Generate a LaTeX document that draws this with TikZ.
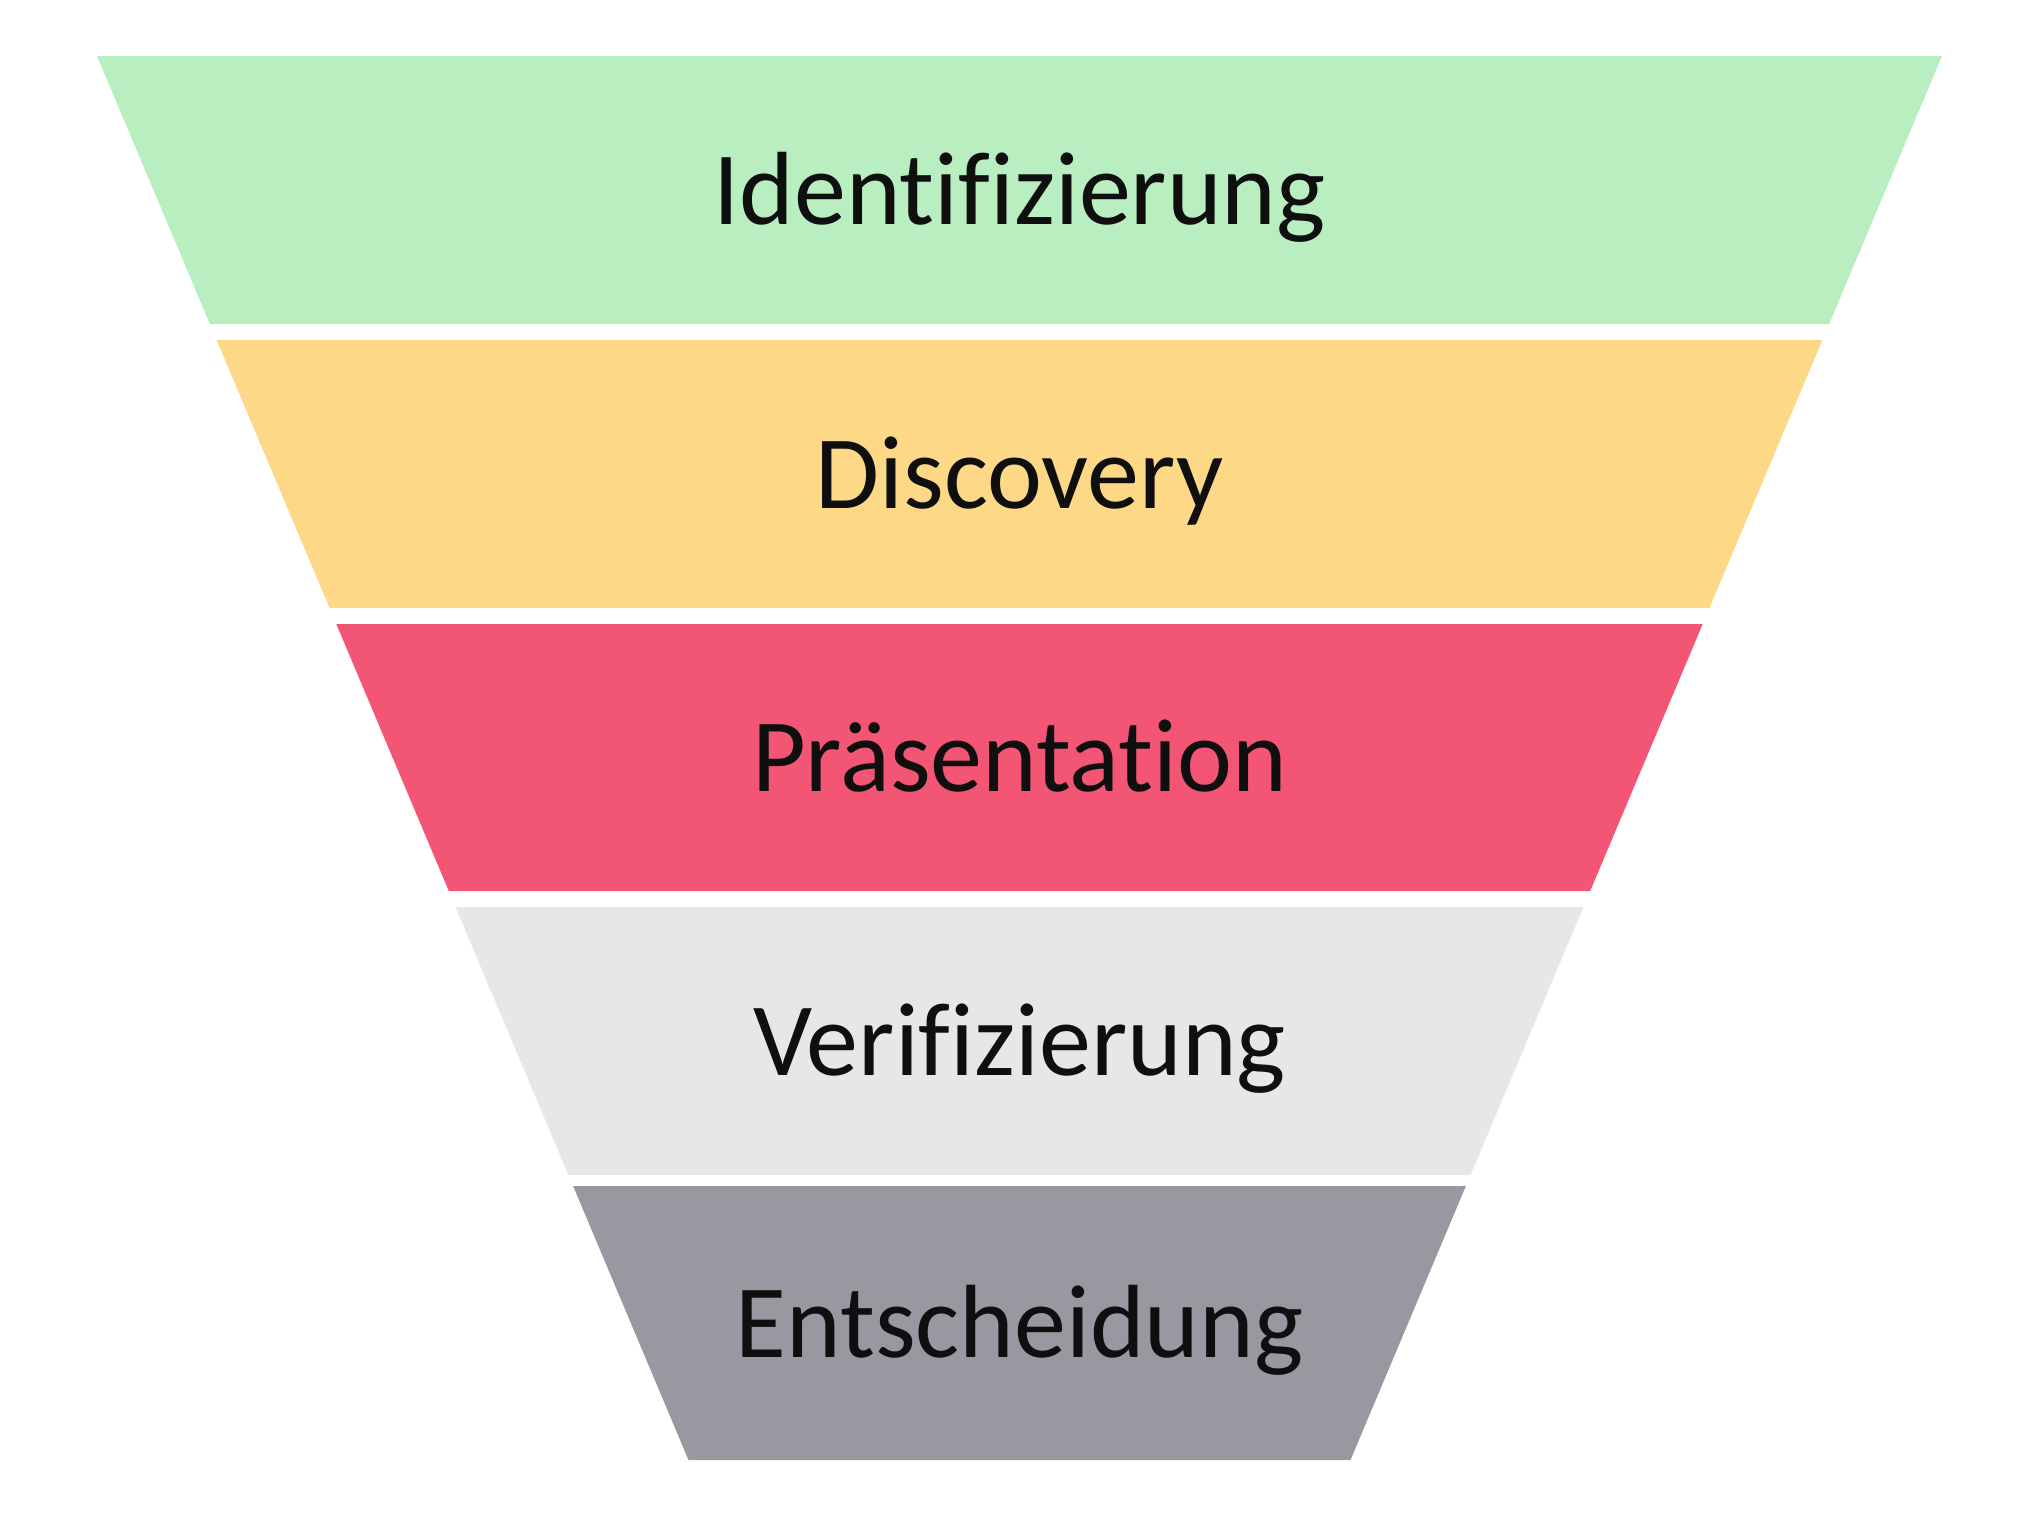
\documentclass[tikz,border=0pt]{standalone}
\usepackage{fontspec}
\setmainfont[Ligatures={NoCommon}]{Carlito}
\usepackage{xcolor}
\usepackage{tikz}
\usetikzlibrary{positioning}
\definecolor{stagegreen}{RGB}{185, 238, 192}
\definecolor{stageyellow}{RGB}{253, 216, 134}
\definecolor{stagered}{RGB}{242, 86, 116}
\definecolor{stagelight}{RGB}{231, 231, 231}
\definecolor{stagegray}{RGB}{152, 152, 160}
\definecolor{stagetext}{RGB}{15, 15, 15}

\begin{document}
\begin{tikzpicture}[
    x=0.01cm, y=-0.01cm,
    label/.style={anchor=base, text=stagetext, inner sep=0pt,
                  font=\fontsize{29.6}{35}\selectfont}
]
    \useasboundingbox (0,0) rectangle (2038,1529);

    % funnel layers, top to bottom
    \fill[stagegreen]  (97,56)    -- (1942,56)   -- (1829.1,324)  -- (209.9,324)  -- cycle;
    \fill[stageyellow] (216.6,340) -- (1822.4,340) -- (1709.4,608)  -- (329.6,608)  -- cycle;
    \fill[stagered]    (336.3,624) -- (1702.7,624) -- (1590.2,891)  -- (448.8,891)  -- cycle;
    \fill[stagelight]  (455.5,907) -- (1583.5,907) -- (1470.6,1175) -- (568.4,1175) -- cycle;
    \fill[stagegray]   (573.1,1186) -- (1465.9,1186) -- (1350.5,1460) -- (688.5,1460) -- cycle;

    \node[label] (ident)  at (1019.5,224)    {Identifizierung};
    \node[label] (disc)   at (1019.5,508)    {Discovery};
    \node[label] (praes)  at (1019.5,791.5)  {Präsentation};
    \node[label] (verif)  at (1019.5,1075)   {Verifizierung};
    \node[label] (entsch) at (1019.5,1357)   {Entscheidung};
\end{tikzpicture}
\end{document}
